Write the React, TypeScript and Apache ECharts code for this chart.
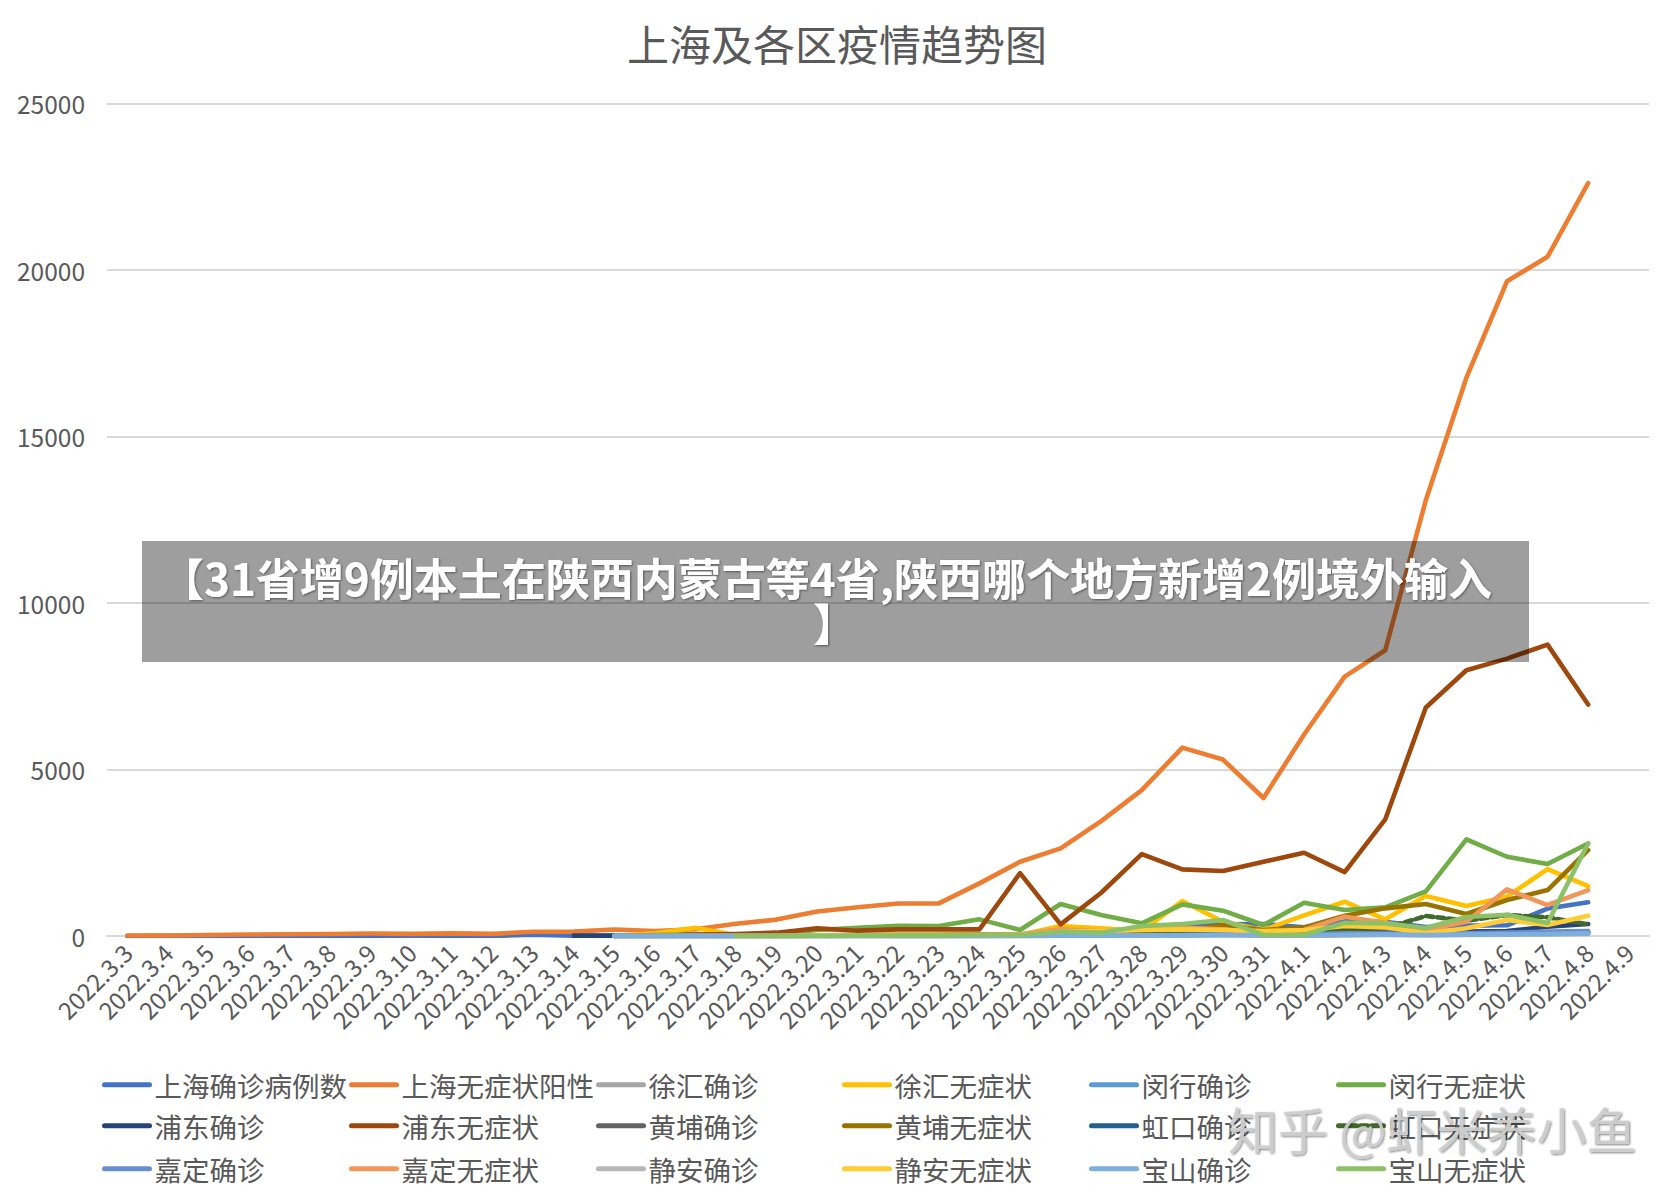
import React, { useEffect, useRef } from "react";
import * as echarts from "echarts";

const categories = [
  "2022.3.3", "2022.3.4", "2022.3.5", "2022.3.6", "2022.3.7", "2022.3.8", "2022.3.9", "2022.3.10",
  "2022.3.11", "2022.3.12", "2022.3.13", "2022.3.14", "2022.3.15", "2022.3.16", "2022.3.17", "2022.3.18",
  "2022.3.19", "2022.3.20", "2022.3.21", "2022.3.22", "2022.3.23", "2022.3.24", "2022.3.25", "2022.3.26",
  "2022.3.27", "2022.3.28", "2022.3.29", "2022.3.30", "2022.3.31", "2022.4.1", "2022.4.2", "2022.4.3",
  "2022.4.4", "2022.4.5", "2022.4.6", "2022.4.7", "2022.4.8", "2022.4.9",
];

const yTicks = [0, 5000, 10000, 15000, 20000, 25000];

// whole-city series, from 2022.3.3
const shConfirmed = [2, 3, 0, 3, 1, 3, 4, 11, 5, 1, 41, 9, 5, 8, 57, 8, 17, 24, 31, 4, 4, 29, 38, 45, 50, 96, 326, 355, 358, 260, 438, 425, 268, 311, 322, 824, 1015];
const shAsymptomatic = [14, 16, 28, 45, 51, 62, 76, 64, 78, 64, 128, 130, 197, 150, 203, 366, 492, 734, 865, 977, 979, 1580, 2231, 2631, 3450, 4381, 5656, 5298, 4144, 6051, 7788, 8581, 13086, 16766, 19660, 20398, 22609];

// district series, from 2022.3.14
const DISTRICT_START = 11;
const xuhuiConfirmed = [null, 0, 0, 0, 0, 0, 0, 0, 0, 0, 0, 0, 10, 10, 20, 30, 40, 30, 20, 40, 60, 50, 60, 80, 90, 100];
const xuhuiAsym = [null, 0, 80, 250, 20, 10, 20, 30, 40, 40, 50, 30, 300, 230, 150, 1050, 430, 180, 620, 1030, 500, 1200, 900, 1180, 2010, 1500];
const minhangConfirmed = [null, 0, 0, 0, 0, 0, 0, 0, 0, 0, 5, 10, 20, 20, 30, 40, 60, 50, 40, 60, 70, 50, 60, 80, 100, 120];
const minhangAsym = [null, 0, 30, 40, 20, 50, 180, 250, 310, 300, 500, 180, 960, 630, 380, 950, 760, 330, 1000, 780, 860, 1340, 2900, 2380, 2160, 2780];
const pudongConfirmed = [10, 10, 5, 5, 5, 5, 10, 10, 10, 10, 10, 15, 20, 20, 30, 40, 50, 60, 80, 130, 100, 100, 130, 150, 280, 360];
const pudongAsym = [null, 0, 0, 40, 60, 100, 230, 160, 200, 200, 200, 1890, 350, 1300, 2460, 2000, 1950, 2230, 2500, 1920, 3500, 6860, 7980, 8330, 8750, 6950];
const huangpuConfirmed = [null, 0, 0, 0, 0, 0, 0, 0, 0, 0, 0, 10, 20, 20, 30, 40, 60, 40, 40, 80, 60, 50, 60, 80, 100, 120];
const huangpuAsym = [null, 0, 0, 0, 0, 0, 10, 20, 30, 30, 40, 50, 80, 100, 150, 150, 330, 180, 260, 610, 830, 960, 660, 1080, 1380, 2580];
const hongkouConfirmed = [null, 0, 0, 0, 0, 0, 0, 0, 0, 0, 0, 5, 10, 10, 20, 30, 40, 30, 30, 50, 60, 50, 40, 60, 80, 90];
const hongkouAsym = [null, 0, 0, 0, 0, 0, 0, 10, 10, 10, 20, 20, 30, 30, 40, 60, 80, 40, 100, 180, 230, 600, 460, 630, 560, 350];
const jiadingConfirmed = [null, 0, 0, 0, 0, 0, 0, 0, 0, 0, 0, 5, 10, 10, 20, 30, 50, 40, 40, 80, 70, 60, 80, 100, 130, 150];
const jiadingAsym = [null, 0, 0, 0, 0, 0, 10, 10, 20, 20, 30, 50, 200, 150, 200, 250, 200, 100, 180, 580, 400, 180, 430, 1400, 930, 1380];
const jinganConfirmed = [null, 0, 0, 0, 0, 0, 0, 0, 0, 0, 0, 0, 5, 5, 10, 20, 20, 20, 10, 20, 30, 20, 30, 40, 50, 60];
const jinganAsym = [null, 0, 0, 0, 0, 0, 10, 20, 20, 20, 30, 30, 130, 150, 180, 200, 180, 150, 180, 300, 260, 80, 230, 480, 330, 610];
const baoshanConfirmed = [null, 0, 0, 0, 0, 0, 0, 0, 0, 0, 0, 5, 10, 10, 20, 20, 30, 20, 20, 30, 40, 30, 40, 50, 60, 70];
const baoshanAsym = [null, null, null, null, 0, 0, 0, 10, 20, 20, 30, 30, 130, 100, 300, 360, 480, 30, 30, 400, 380, 240, 570, 640, 390, 2780];

const seriesNames = [
  "上海确诊病例数", "上海无症状阳性", "徐汇确诊", "徐汇无症状", "闵行确诊", "闵行无症状",
  "浦东确诊", "浦东无症状", "黄埔确诊", "黄埔无症状", "虹口确诊", "虹口无症状",
  "嘉定确诊", "嘉定无症状", "静安确诊", "静安无症状", "宝山确诊", "宝山无症状",
];

const seriesColors = [
  "#4472C4", "#ED7D31", "#A5A5A5", "#FFC000", "#5B9BD5", "#70AD47",
  "#264478", "#9E480E", "#636363", "#997300", "#255E91", "#43682B",
  "#698ED0", "#F1975A", "#B7B7B7", "#FFCD33", "#7CAFDD", "#8CC168",
];

const districtPad = (arr: (number | null)[]) =>
  (new Array(DISTRICT_START).fill(null) as (number | null)[]).concat(arr);

const seriesData: (number | null)[][] = [
  shConfirmed,
  shAsymptomatic,
  districtPad(xuhuiConfirmed),
  districtPad(xuhuiAsym),
  districtPad(minhangConfirmed),
  districtPad(minhangAsym),
  districtPad(pudongConfirmed),
  districtPad(pudongAsym),
  districtPad(huangpuConfirmed),
  districtPad(huangpuAsym),
  districtPad(hongkouConfirmed),
  districtPad(hongkouAsym),
  districtPad(jiadingConfirmed),
  districtPad(jiadingAsym),
  districtPad(jinganConfirmed),
  districtPad(jinganAsym),
  districtPad(baoshanConfirmed),
  districtPad(baoshanAsym),
];

const TITLE = "上海及各区疫情趋势图";
const OVERLAY_LINE1 = "【31省增9例本土在陕西内蒙古等4省,陕西哪个地方新增2例境外输入";
const OVERLAY_LINE2 = "】";
const WATERMARK = "知乎 @虾米养小鱼";

const FONT = '"Noto Sans CJK SC", "Noto Sans", sans-serif';

export default function App() {
  const ref = useRef<HTMLDivElement>(null);

  useEffect(() => {
    document.body.style.margin = "0";
    if (!ref.current) return;
    const chart = echarts.init(ref.current, undefined, { renderer: "svg" });

    const legendCols = [102, 349, 596, 842, 1089, 1336];
    const legendRows = [1071, 1112, 1155];

    const overlayTextStyle = {
      fill: "#ffffff",
      fontSize: 44,
      fontWeight: "bold",
      fontFamily: FONT,
      align: "center",
      verticalAlign: "middle",
      textShadowColor: "rgba(0,0,0,0.45)",
      textShadowBlur: 2,
      textShadowOffsetX: 1,
      textShadowOffsetY: 1,
    };

    const option: any = {
      animation: false,
      backgroundColor: "#ffffff",
      title: {
        text: TITLE,
        left: "center",
        top: 16,
        textStyle: { fontSize: 42, fontWeight: "normal", color: "#595959", fontFamily: FONT },
      },
      grid: { left: 107, right: 25, top: 103.5, bottom: 267, containLabel: false },
      xAxis: {
        type: "category",
        data: categories,
        boundaryGap: true,
        axisLine: { show: true, lineStyle: { color: "#d9d9d9", width: 2 } },
        axisTick: { show: false },
        axisLabel: {
          interval: 0,
          rotate: 45,
          fontSize: 24,
          color: "#595959",
          fontFamily: FONT,
          margin: 12,
        },
      },
      yAxis: {
        type: "value",
        min: yTicks[0],
        max: yTicks[yTicks.length - 1],
        interval: yTicks[1] - yTicks[0],
        axisLine: { show: false },
        axisTick: { show: false },
        splitLine: { lineStyle: { color: "#d9d9d9", width: 2 } },
        axisLabel: {
          fontSize: 24.5,
          color: "#595959",
          fontFamily: FONT,
          margin: 22,
          formatter: (v: number) => String(v),
        },
      },
      legend: seriesNames.map((name, k) => ({
        data: [name],
        left: legendCols[k % 6],
        top: legendRows[Math.floor(k / 6)],
        padding: 0,
        itemWidth: 45,
        itemHeight: 14,
        selectedMode: false,
        itemStyle: { opacity: 0 },
        lineStyle: { width: 5, cap: "round" },
        textStyle: { fontSize: 27.5, color: "#595959", fontFamily: FONT },
      })),
      series: seriesNames.map((name, k) => ({
        name,
        type: "line",
        data: seriesData[k],
        symbol: "none",
        showSymbol: false,
        connectNulls: false,
        color: seriesColors[k],
        lineStyle: {
          color: seriesColors[k],
          width: 4.6,
          cap: "round",
          join: "round",
          type: name === "虹口无症状" ? [7, 4] : "solid",
        },
      })),
      graphic: [
        {
          type: "rect",
          z: 100,
          shape: { x: 142, y: 541, width: 1387, height: 121 },
          style: { fill: "rgba(0,0,0,0.38)" },
        },
        {
          type: "text",
          z: 101,
          x: 826,
          y: 577,
          style: { ...overlayTextStyle, text: OVERLAY_LINE1 },
        },
        {
          type: "text",
          z: 101,
          x: 835,
          y: 622,
          style: { ...overlayTextStyle, text: OVERLAY_LINE2 },
        },
        {
          type: "text",
          z: 102,
          x: 1228,
          y: 1128,
          style: {
            text: WATERMARK,
            fill: "rgba(205,205,205,0.9)",
            fontSize: 50,
            fontFamily: FONT,
            align: "left",
            verticalAlign: "middle",
            textShadowColor: "rgba(0,0,0,0.55)",
            textShadowBlur: 2,
            textShadowOffsetX: 1,
            textShadowOffsetY: 1,
          },
        },
      ],
    };

    chart.setOption(option);
    return () => chart.dispose();
  }, []);

  return <div ref={ref} style={{ width: 1674, height: 1203 }} />;
}
